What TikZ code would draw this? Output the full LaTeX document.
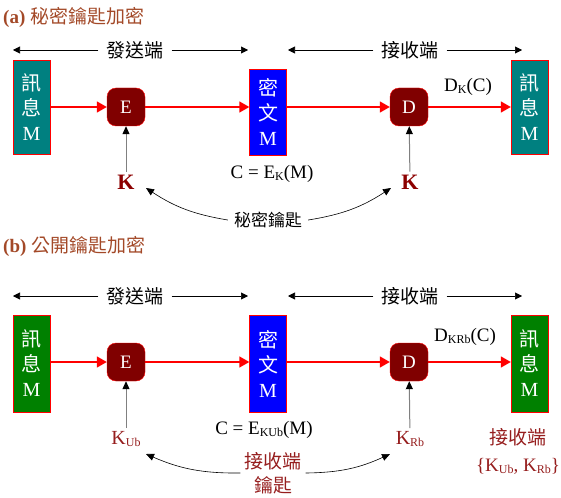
\documentclass[tikz,border=0pt]{standalone}
\usepackage{fontspec}
\setmainfont{Liberation Serif}
\newfontfamily\cjk{Noto Sans CJK TC}
\usetikzlibrary{arrows.meta}
\definecolor{titlebrown}{RGB}{163,73,40}
\definecolor{keyred}{RGB}{140,0,0}
\definecolor{keybrown}{RGB}{150,30,30}
\definecolor{msgteal}{RGB}{0,128,128}
\definecolor{msggreen}{RGB}{0,128,0}
\definecolor{boxmaroon}{RGB}{128,0,0}
\newcommand{\sz}[1]{\fontsize{#1}{#1}\selectfont}
\newcommand{\lowsub}[1]{\raisebox{-2pt}{\sz{12}#1}}

\tikzset{
  title/.style={anchor=west, inner sep=0pt, text=titlebrown, font=\sz{19}},
  sidelabel/.style={font=\cjk\sz{19}, inner sep=8pt},
  msgbox/.style={draw=red, fill=#1, text=white, minimum width=37pt, align=center,
    font=\fontsize{20}{25}\selectfont, inner sep=0pt},
  func/.style={draw=red, fill=boxmaroon, text=white, rounded corners=9pt,
    minimum size=38pt, inner sep=0pt, font=\sz{19}},
  flow/.style={red, line width=1.5pt, -{Triangle[length=10pt,width=11pt]}},
  span/.style={line width=0.6pt, -{Triangle[length=7pt,width=7pt]}},
  keyline/.style={gray, line width=1pt, -{Triangle[length=8pt,width=7pt,color=black]}},
  keycurve/.style={line width=0.6pt, -{Triangle[length=8pt,width=7pt]}},
  keyname/.style={font=\sz{20}, inner sep=3pt},
  formula/.style={font=\sz{19}}
}

\begin{document}
\begin{tikzpicture}[x=1pt,y=-1pt]
\useasboundingbox (0,0) rectangle (561,497);

% (a) secret key
\node[title] (ta) at (3,17) {\textbf{(a)} {\cjk 秘密鑰匙加密}};

\coordinate (sa-l) at (13,50);
\coordinate (sa-r) at (248,50);
\coordinate (ra-l) at (288,50);
\coordinate (ra-r) at (522,50);
\node[sidelabel] (senda) at (135,50) {發送端};
\node[sidelabel] (recva) at (410,50) {接收端};
\draw[span] (senda) -- (sa-l);
\draw[span] (senda) -- (sa-r);
\draw[span] (recva) -- (ra-l);
\draw[span] (recva) -- (ra-r);

\node[msgbox=msgteal, minimum height=94pt] (ma) at (31.5,107) {{\cjk 訊}\\{\cjk 息}\\M};
\node[func] (ea) at (126,107) {E};
\node[msgbox=blue, minimum height=86pt] (ca) at (268,112) {{\cjk 密}\\{\cjk 文}\\M};
\node[func] (da) at (409,107) {D};
\node[msgbox=msgteal, minimum height=94pt] (pa) at (529.5,107) {{\cjk 訊}\\{\cjk 息}\\M};

\draw[flow] (ma) -- (ea);
\draw[flow] (ea) -- (ea -| ca.west);
\draw[flow] (da -| ca.east) -- (da);
\draw[flow] (da) -- (pa);
\node[formula] (dka) at (468,87) {D\lowsub{K}(C)};

\node[keyname, text=keyred, font=\bfseries\sz{22}] (ka) at (126,182) {K};
\node[keyname, text=keyred, font=\bfseries\sz{22}] (kb) at (410,182) {K};
\draw[keyline] (ka) -- (ea);
\draw[keyline] (kb) -- (da);
\node[formula] (eka) at (272,174) {C = E\lowsub{K}(M)};

\node[font=\cjk\sz{17}, inner sep=6pt] (skey) at (268,220) {秘密鑰匙};
\coordinate (ka-in) at (146,188);
\coordinate (kb-in) at (391,188);
\draw[keycurve] (skey.west) to[bend left=12] (ka-in);
\draw[keycurve] (skey.east) to[bend right=12] (kb-in);

% (b) public key
\node[title] (tb) at (3,246) {\textbf{(b)} {\cjk 公開鑰匙加密}};

\coordinate (sb-l) at (13,296);
\coordinate (sb-r) at (248,296);
\coordinate (rb-l) at (288,296);
\coordinate (rb-r) at (522,296);
\node[sidelabel] (sendb) at (135,296) {發送端};
\node[sidelabel] (recvb) at (410,296) {接收端};
\draw[span] (sendb) -- (sb-l);
\draw[span] (sendb) -- (sb-r);
\draw[span] (recvb) -- (rb-l);
\draw[span] (recvb) -- (rb-r);

\node[msgbox=msggreen, minimum height=97pt] (mb) at (31.5,363.5) {{\cjk 訊}\\{\cjk 息}\\M};
\node[func] (eb) at (126,362) {E};
\node[msgbox=blue, minimum height=97pt] (cb) at (268,363.5) {{\cjk 密}\\{\cjk 文}\\M};
\node[func] (db) at (409,362) {D};
\node[msgbox=msggreen, minimum height=97pt] (pb) at (529.5,363.5) {{\cjk 訊}\\{\cjk 息}\\M};

\draw[flow] (mb.east |- eb) -- (eb);
\draw[flow] (eb) -- (eb -| cb.west);
\draw[flow] (db -| cb.east) -- (db);
\draw[flow] (db) -- (db -| pb.west);
\node[formula] (dkb) at (465,337) {D\lowsub{KRb}(C)};

\node[keyname, text=keybrown] (kub) at (126,439) {K\lowsub{Ub}};
\node[keyname, text=keybrown] (krb) at (410,439) {K\lowsub{Rb}};
\draw[keyline] (kub) -- (eb);
\draw[keyline] (krb) -- (db);
\node[formula] (ekb) at (264,430) {C = E\lowsub{KUb}(M)};

\node[text=keybrown, align=center, font=\fontsize{19}{27}\selectfont] (pair) at (518,451)
  {{\cjk 接收端}\\\{K\lowsub{Ub}, K\lowsub{Rb}\}};

\node[text=keybrown, align=center, font=\cjk\fontsize{19}{24}\selectfont, inner sep=4pt] (pkey) at (273,473) {接收端\\鑰匙};
\coordinate (kub-in) at (146,454);
\coordinate (krb-in) at (390,454);
\draw[keycurve] (pkey.west) to[bend left=12] (kub-in);
\draw[keycurve] (pkey.east) to[bend right=12] (krb-in);
\end{tikzpicture}
\end{document}
